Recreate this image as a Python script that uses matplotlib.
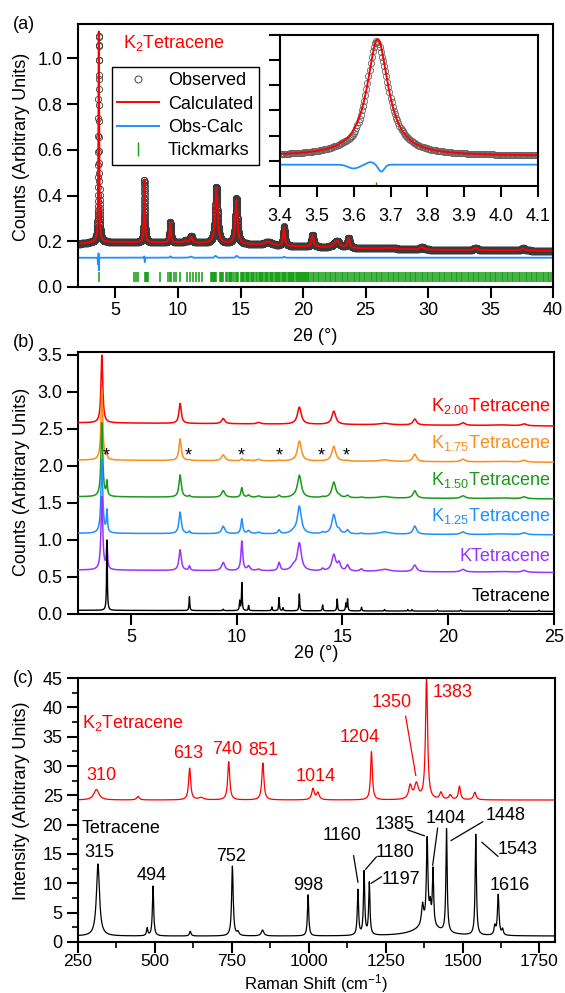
import numpy as np
import matplotlib
matplotlib.use("Agg")
import matplotlib.pyplot as plt
from matplotlib.lines import Line2D
from matplotlib.ticker import MultipleLocator, FormatStrFormatter

plt.rcParams['font.family'] = ['Liberation Sans', 'DejaVu Sans']
plt.rcParams['mathtext.fontset'] = 'custom'
plt.rcParams['mathtext.rm'] = 'Liberation Sans'
plt.rcParams['mathtext.it'] = 'Liberation Sans:italic'
plt.rcParams['font.size'] = 13

# ---------------- (a) K2Tetracene refinement ----------------
a_bg_x = [2, 3.5, 10, 15, 20, 25, 30, 40]
a_bg_y = [0.188, 0.197, 0.194, 0.188, 0.176, 0.168, 0.163, 0.158]
a_pk_pos = [3.665, 7.32, 9.38, 10.6, 11.06, 13.07, 14.67, 17.2, 18.48, 20.76, 22.7, 23.64, 27.0, 29.5, 33.8, 37.6]
a_pk_h = [0.92, 0.275, 0.085, 0.01, 0.025, 0.24, 0.19, 0.015, 0.08, 0.052, 0.03, 0.043, 0.005, 0.012, 0.01, 0.01]
a_pk_w = [0.07, 0.09, 0.12, 0.2, 0.2, 0.22, 0.2, 0.6, 0.15, 0.2, 0.5, 0.2, 1.0, 0.3, 0.3, 0.3]
# obs - calc features
a_dif_pos = [3.60, 3.645, 3.675, 7.30, 7.34, 9.4, 11.0, 13.0, 14.7, 18.5]
a_dif_amp = [-0.03, 0.02, -0.055, 0.006, -0.02, 0.006, 0.005, 0.008, 0.008, 0.004]
a_dif_w = [0.015, 0.01, 0.008, 0.02, 0.015, 0.05, 0.1, 0.08, 0.08, 0.06]
a_dif_level = 0.128
# reflection positions
a_ticks = [3.66, 6.52, 6.66, 6.79, 7.33, 7.41, 7.52, 7.59, 8.53, 9.20, 9.33, 9.46, 9.65, 9.86, 10.13,
           10.71, 10.93, 11.20, 11.41, 11.68, 11.95, 12.67, 12.73, 12.80, 12.88, 12.95, 13.03, 13.34,
           13.40, 13.50, 13.60, 13.87, 13.95, 14.05, 14.15, 14.25, 14.35, 14.45, 14.60, 14.70, 14.80,
           15.02, 15.11, 15.20, 15.28, 15.41, 15.50, 15.58, 15.71, 15.80, 15.92, 16.03, 16.10, 16.22,
           16.30, 16.45, 16.52, 16.60, 16.74, 16.83, 16.95, 17.05, 17.14, 17.22, 17.35, 17.43, 17.52,
           17.60, 17.72, 17.80, 17.90, 18.00, 18.09, 18.18, 18.30, 18.40, 18.48, 18.57, 18.66, 18.78,
           18.86, 18.95, 19.04, 19.12, 19.20, 19.31, 19.40, 19.48, 19.56, 19.65, 19.74, 19.83, 19.91,
           20.00, 20.08, 20.17, 20.25, 20.33, 20.42, 20.50, 20.63, 20.77, 20.90, 21.04, 21.18, 21.31,
           21.45, 21.58, 21.72, 21.86, 21.99, 22.13, 22.27, 22.40, 22.54, 22.67, 22.81, 22.95, 23.08,
           23.22, 23.35, 23.49, 23.63, 23.76, 23.90, 24.04, 24.17, 24.31, 24.44, 24.58, 24.72, 24.85,
           24.99, 25.12, 25.26, 25.40, 25.53, 25.67, 25.81, 25.94, 26.08, 26.21, 26.35, 26.49, 26.62,
           26.76, 26.89, 27.03, 27.17, 27.30, 27.44, 27.58, 27.71, 27.85, 27.98, 28.12, 28.26, 28.39,
           28.53, 28.66, 28.80, 28.94, 29.07, 29.21, 29.35, 29.48, 29.62, 29.75, 29.89, 30.03, 30.16,
           30.30, 30.43, 30.57, 30.71, 30.84, 30.98, 31.12, 31.25, 31.39, 31.52, 31.66, 31.80, 31.93,
           32.07, 32.20, 32.34, 32.48, 32.61, 32.75, 32.89, 33.02, 33.16, 33.29, 33.43, 33.57, 33.70,
           33.84, 33.97, 34.11, 34.25, 34.38, 34.52, 34.66, 34.79, 34.93, 35.06, 35.20, 35.34, 35.47,
           35.61, 35.74, 35.88, 36.02, 36.15, 36.29, 36.43, 36.56, 36.70, 36.83, 36.97, 37.11, 37.24,
           37.38, 37.51, 37.65, 37.79, 37.92, 38.06, 38.20, 38.33, 38.47, 38.60, 38.74, 38.88, 39.01,
           39.15, 39.28, 39.42, 39.56, 39.69, 39.83, 39.97]

# ---------------- (b) KxTetracene XRD ----------------
b_names = ['Tetracene', 'KTetracene', 'K$_{1.25}$Tetracene', 'K$_{1.50}$Tetracene',
           'K$_{1.75}$Tetracene', 'K$_{2.00}$Tetracene']
b_colors = ['black', '#9933ff', '#1e90ff', '#1a9a1a', '#ff8c1a', '#ff0000']
b_base_left = [0.05, 0.595, 1.09, 1.585, 2.08, 2.585]
b_base_right = [0.035, 0.56, 1.07, 1.555, 2.05, 2.54]
b_label_y = [0.23, 0.77, 1.32, 1.81, 2.31, 2.81]
# tetracene (sharp)
b_tet_pos = [3.87, 7.77, 9.37, 10.15, 10.25, 10.57, 11.67, 12.01, 12.2, 12.97, 14.07, 14.76,
             15.17, 15.25, 15.91, 17.0, 18.1, 18.3, 19.5, 20.6, 22.9, 24.3]
b_tet_h = [0.96, 0.19, 0.02, 0.13, 0.38, 0.07, 0.05, 0.18, 0.04, 0.23, 0.08, 0.16,
           0.10, 0.16, 0.05, 0.02, 0.02, 0.02, 0.015, 0.015, 0.02, 0.015]
# potassium-doped phases (shared peak positions)
b_pk_pos = [3.63, 3.87, 7.33, 7.77, 9.37, 10.25, 10.57, 11.04, 12.01, 12.7, 12.97, 14.07,
            14.6, 14.85, 15.25, 15.9, 17.0, 18.43, 20.71, 22.5, 23.6]
b_pk_w = [0.10, 0.06, 0.13, 0.08, 0.18, 0.10, 0.15, 0.2, 0.12, 0.3, 0.22, 0.12,
          0.22, 0.15, 0.15, 0.15, 0.6, 0.2, 0.25, 1.0, 0.25]
b_h_k100 = [0.99, 0.35, 0.28, 0.06, 0.11, 0.40, 0.06, 0.02, 0.11, 0.06, 0.37, 0.03,
            0.22, 0.10, 0.08, 0.03, 0.03, 0.09, 0.035, 0.01, 0.025]
b_h_k125 = [1.00, 0.29, 0.29, 0.03, 0.10, 0.20, 0.04, 0.02, 0.05, 0.03, 0.37, 0.02,
            0.26, 0.04, 0.05, 0.01, 0.03, 0.11, 0.035, 0.01, 0.025]
b_h_k150 = [1.00, 0.19, 0.30, 0.02, 0.09, 0.13, 0.03, 0.02, 0.03, 0.01, 0.30, 0.01,
            0.21, 0.02, 0.03, 0.01, 0.02, 0.10, 0.035, 0.01, 0.025]
b_h_k175 = [0.96, 0.05, 0.29, 0.01, 0.08, 0.03, 0.01, 0.02, 0.01, 0.0, 0.27, 0.0,
            0.20, 0.0, 0.01, 0.0, 0.02, 0.10, 0.035, 0.01, 0.025]
b_h_k200 = [0.915, 0.0, 0.27, 0.0, 0.07, 0.0, 0.0, 0.02, 0.0, 0.0, 0.23, 0.0,
            0.18, 0.0, 0.0, 0.0, 0.02, 0.08, 0.035, 0.01, 0.025]
b_star_x = [3.82, 7.7, 10.24, 12.0, 14.0, 15.2]

# ---------------- (c) Raman ----------------
c_red_base = 24.2
c_red_pos = [310, 445, 613, 650, 740, 851, 1014, 1030, 1204, 1330, 1350, 1383, 1430, 1460, 1490, 1540]
c_red_h = [1.8, 0.6, 5.4, 0.4, 6.5, 6.3, 1.9, 1.2, 8.2, 2.3, 2.6, 20.8, 1.2, 0.8, 2.3, 1.3]
c_red_w = [20, 10, 8, 20, 8, 8, 10, 10, 7, 12, 15, 8, 10, 10, 8, 10]
c_blk_base = 1.0
c_blk_pos = [315, 475, 494, 615, 752, 770, 850, 998, 1160, 1180, 1197, 1370, 1385, 1385, 1395,
             1404, 1448, 1543, 1605, 1616, 1630]
c_blk_h = [12.3, 1.3, 8.5, 0.8, 11.9, 0.6, 1.0, 7.0, 7.7, 10.8, 8.9, 3.5, 1.8, 14.5, 3.0,
           9.5, 17.6, 17.2, 1.5, 6.9, 1.0]
c_blk_w = [12, 5, 5, 6, 6, 8, 10, 5, 5, 5, 5, 8, 90, 6, 6, 5, 5, 5, 6, 6, 6]


def lorentz(x, pos, h, w):
    y = np.zeros_like(x)
    for p, hh, ww in zip(pos, h, w):
        y += hh / (1 + ((x - p) / (ww / 2)) ** 2)
    return y


def gauss(x, pos, h, w):
    y = np.zeros_like(x)
    for p, hh, ww in zip(pos, h, w):
        y += hh * np.exp(-0.5 * ((x - p) / ww) ** 2)
    return y


fig = plt.figure(figsize=(5.65, 9.93), dpi=100)


def style_axes(ax):
    for s in ax.spines.values():
        s.set_linewidth(1.5)
    ax.tick_params(direction='out', length=8, width=1.5, labelsize=13, pad=3)
    ax.tick_params(which='minor', direction='out', length=4.5, width=1.2)


# ---- panel (a)
axa = fig.add_axes([0.138, 0.711, 0.841, 0.2648])
tt = np.arange(2.0, 40.0, 0.005)
calc = np.interp(tt, a_bg_x, a_bg_y) + lorentz(tt, a_pk_pos, a_pk_h, a_pk_w)
diff = a_dif_level + gauss(tt, a_dif_pos, a_dif_amp, a_dif_w)
obs = calc + diff - a_dif_level

axa.plot(tt, obs, ls='none', marker='o', ms=4.5, mfc='none', mec='#3a3a3a', mew=0.6)
axa.plot(tt, calc, color='red', lw=1.4)
axa.plot(tt, diff, color='#1e90ff', lw=1.3)
axa.vlines(a_ticks, 0.02, 0.065, color='#109c10', lw=1.1)
axa.set_xlim(2, 40)
axa.set_ylim(0, 1.15)
axa.xaxis.set_major_locator(MultipleLocator(5))
axa.yaxis.set_major_locator(MultipleLocator(0.2))
axa.yaxis.set_major_formatter(FormatStrFormatter('%.1f'))
style_axes(axa)
axa.set_xlabel('2θ (°)', fontsize=13, va='top')
axa.xaxis.set_label_coords(0.5, -0.155)
axa.set_ylabel('Counts (Arbitrary Units)', fontsize=13)
axa.yaxis.set_label_coords(-0.1, 0.534)
axa.text(0.095, 0.928, 'K$_2$Tetracene', color='red', transform=axa.transAxes,
         ha='left', va='center', fontsize=13)

handles = [Line2D([], [], ls='none', marker='o', ms=5, mfc='none', mec='#555555', mew=0.8),
           Line2D([], [], color='red', lw=1.4),
           Line2D([], [], color='#1e90ff', lw=1.4),
           Line2D([], [], ls='none', marker='|', ms=10, mew=1.0, color='#109c10')]
leg = axa.legend(handles, ['Observed', 'Calculated', 'Obs-Calc', 'Tickmarks'],
                 loc='upper left', bbox_to_anchor=(0.0716, 0.8365), borderaxespad=0,
                 fancybox=False, edgecolor='black', framealpha=1, numpoints=1,
                 handlelength=2.3, handletextpad=0.5, labelspacing=0.35, borderpad=0.3,
                 fontsize=13)
leg.get_frame().set_linewidth(1.0)

# inset
axi = fig.add_axes([0.4956, 0.8127, 0.4566, 0.1521])
ti = np.arange(3.4, 4.1, 0.003)
calc_i = np.interp(ti, a_bg_x, a_bg_y) + lorentz(ti, a_pk_pos, a_pk_h, a_pk_w)
diff_i = a_dif_level + gauss(ti, a_dif_pos, a_dif_amp, a_dif_w)
obs_i = calc_i + diff_i - a_dif_level
axi.plot(ti, obs_i, ls='none', marker='o', ms=4.5, mfc='none', mec='#666666', mew=0.6)
axi.plot(ti, calc_i, color='red', lw=1.4)
axi.plot(ti, diff_i, color='#1e90ff', lw=1.3)
axi.vlines([t for t in a_ticks if 3.4 <= t <= 4.1], -0.035, -0.01, color='#109c10', lw=1.0)
axi.set_xlim(3.4, 4.1)
axi.set_ylim(-0.04, 1.15)
axi.set_xticks([3.4, 3.5, 3.6, 3.7, 3.8, 3.9, 4.0, 4.1])
axi.xaxis.set_major_formatter(FormatStrFormatter('%.1f'))
axi.set_yticks(np.linspace(-0.04, 1.15, 7))
axi.set_yticklabels([])
style_axes(axi)
axi.tick_params(axis='x', pad=8)

# ---- panel (b)
axb = fig.add_axes([0.138, 0.3817, 0.842, 0.2638])
xb = np.arange(2.5, 25.0, 0.004)
heights = [None, b_h_k100, b_h_k125, b_h_k150, b_h_k175, b_h_k200]
for i in range(6):
    base = b_base_left[i] + (b_base_right[i] - b_base_left[i]) * (xb - 2.5) / 22.5
    if i == 0:
        yb = base + lorentz(xb, b_tet_pos, b_tet_h, [0.04] * len(b_tet_pos))
        lw = 1.0
    else:
        yb = base + lorentz(xb, b_pk_pos, heights[i], b_pk_w)
        lw = 1.1
    axb.plot(xb, yb, color=b_colors[i], lw=lw, zorder=10 - i)
    axb.text(24.85, b_label_y[i], b_names[i], color=b_colors[i], ha='right', va='center',
             fontsize=13, zorder=20)
for sx in b_star_x:
    axb.text(sx, 2.14, '*', ha='center', va='center', fontsize=13, zorder=20)
axb.set_xlim(2.5, 25)
axb.set_ylim(0, 3.54)
axb.xaxis.set_major_locator(MultipleLocator(5))
axb.yaxis.set_major_locator(MultipleLocator(0.5))
axb.yaxis.set_major_formatter(FormatStrFormatter('%.1f'))
style_axes(axb)
axb.set_xlabel('2θ (°)', fontsize=13, va='top')
axb.xaxis.set_label_coords(0.5, -0.12)
axb.set_ylabel('Counts (Arbitrary Units)', fontsize=13)
axb.yaxis.set_label_coords(-0.1, 0.504)

# ---- panel (c)
axc = fig.add_axes([0.138, 0.0514, 0.844, 0.2658])
xc = np.arange(250, 1800.5, 1.0)
y_red = c_red_base + lorentz(xc, c_red_pos, c_red_h, c_red_w)
y_blk = c_blk_base + lorentz(xc, c_blk_pos, c_blk_h, c_blk_w)
axc.plot(xc, y_red, color='red', lw=0.9)
axc.plot(xc, y_blk, color='black', lw=0.9)
axc.set_xlim(250, 1800)
axc.set_ylim(0, 45)
axc.xaxis.set_major_locator(MultipleLocator(250))
axc.xaxis.set_minor_locator(MultipleLocator(125))
axc.yaxis.set_major_locator(MultipleLocator(5))
axc.yaxis.set_minor_locator(MultipleLocator(2.5))
style_axes(axc)
axc.tick_params(axis='x', pad=1, labelsize=12.5)
axc.set_xlabel('Raman Shift (cm$^{-1}$)', fontsize=12, va='top')
axc.xaxis.set_label_coords(0.5, -0.114)
axc.set_ylabel('Intensity (Arbitrary Units)', fontsize=13)
axc.yaxis.set_label_coords(-0.1, 0.534)

axc.text(263, 37.3, 'K$_2$Tetracene', color='red', ha='left', va='center', fontsize=13)
axc.text(263, 19.4, 'Tetracene', color='black', ha='left', va='center', fontsize=13)
red_labels = [('310', 327, 28.4), ('613', 608, 32.2), ('740', 734, 32.8), ('851', 853, 32.6),
              ('1014', 1023, 28.2), ('1204', 1166, 34.9), ('1350', 1269, 40.9), ('1383', 1468, 42.6)]
for s, x, y in red_labels:
    axc.text(x, y, s, color='red', ha='center', va='center', fontsize=13)
blk_labels = [('315', 321, 15.2), ('494', 488, 11.4), ('752', 747, 14.5), ('998', 997, 9.7),
              ('1160', 1110, 18.2), ('1180', 1279, 15.2), ('1197', 1300, 10.7),
              ('1385', 1279, 20.1), ('1404', 1446, 21.1), ('1448', 1641, 21.6),
              ('1543', 1679, 15.7), ('1616', 1653, 9.7)]
for s, x, y in blk_labels:
    axc.text(x, y, s, color='black', ha='center', va='center', fontsize=13)
leaders = [((1315, 38.5), (1348, 28.4), 'red'), ((1146, 14.7), (1160, 10.2), 'black'),
           ((1185, 12.4), (1220, 14.5), 'black'), ((1203, 10.0), (1236, 11.1), 'black'),
           ((1322, 19.1), (1376, 18.1), 'black'), ((1419, 19.4), (1403, 13.1), 'black'),
           ((1566, 20.5), (1463, 17.3), 'black'), ((1563, 17.0), (1615, 14.6), 'black')]
for p1, p2, col in leaders:
    axc.plot([p1[0], p2[0]], [p1[1], p2[1]], color=col, lw=0.9)

fig.text(0.023, 0.975, '(a)', fontsize=13, va='center')
fig.text(0.023, 0.6546, '(b)', fontsize=13, va='center')
fig.text(0.023, 0.3172, '(c)', fontsize=13, va='center')

fig.savefig('out.png', dpi=100)
